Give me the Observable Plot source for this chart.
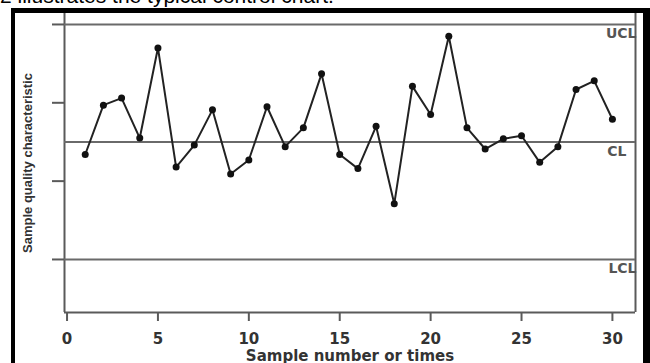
<!DOCTYPE html>
<html>
<head>
<meta charset="utf-8">
<script src="https://cdn.jsdelivr.net/npm/d3@7"></script>
<script src="https://cdn.jsdelivr.net/npm/@observablehq/plot@0.6"></script>
<style>
  html, body { margin: 0; padding: 0; background: #fff; }
  #wrap { position: relative; width: 650px; height: 363px; overflow: hidden; background: #fff; }
  #caption { position: absolute; left: 0px; top: -16px; font: 21px "Liberation Sans", Arial, sans-serif; color: #000; white-space: nowrap; }
  #border { position: absolute; left: 11px; top: 8px; width: 628px; height: 400px; border-left: 4px solid #000; border-top: 5px solid #000; border-right: 8px solid #000; box-sizing: content-box; }
  #chart { position: absolute; left: 0; top: 0; }
</style>
</head>
<body>
<div id="wrap">
  <div id="caption">2 illustrates the typical control chart.</div>
  <div id="chart"></div>
  <div id="border"></div>
</div>
<script>
const sampleNumbers = [1,2,3,4,5,6,7,8,9,10,11,12,13,14,15,16,17,18,19,20,21,22,23,24,25,26,27,28,29,30];
const sampleValues = [1.34,1.97,2.06,1.55,2.70,1.18,1.46,1.91,1.09,1.27,1.95,1.44,1.68,2.37,1.34,1.16,1.70,0.71,2.21,1.85,2.85,1.68,1.41,1.54,1.58,1.24,1.44,2.17,2.28,1.79];
const limitNames = ["UCL", "CL", "LCL"];
const limitValues = [3, 1.5, 0];
const xTicks = [0, 5, 10, 15, 20, 25, 30];
const yTicks = [0, 1, 2, 3];

const points = sampleNumbers.map((n, i) => ({n, v: sampleValues[i]}));
const limits = limitNames.map((name, i) => ({name, v: limitValues[i]}));

const xDom = [-0.14, 31.27];
const yDom = [-0.677, 3.14];
const gray = "#5a5a5a";

const chart = Plot.plot({
  width: 650,
  height: 363,
  marginLeft: 64,
  marginRight: 15,
  marginTop: 13,
  marginBottom: 51,
  x: {domain: xDom, ticks: xTicks, label: null},
  y: {domain: yDom, ticks: yTicks, label: null},
  style: {background: "transparent", overflow: "visible"},
  marks: [
    // frame (left, right, bottom)
    Plot.ruleX(xDom, {stroke: gray, strokeWidth: 2}),
    Plot.ruleY([yDom[0]], {stroke: gray, strokeWidth: 2}),
    // control limit lines
    Plot.ruleY(limits, {y: "v", x1: xDom[0], x2: xDom[1], stroke: "#6a6a6a", strokeWidth: 2}),
    // axes
    Plot.axisX({ticks: xTicks, tickSize: 9, tickPadding: 12, stroke: gray, strokeWidth: 2,
      fontSize: 15, fontWeight: "bold", fontFamily: "DejaVu Sans", fill: "#333",
      label: "Sample number or times", labelAnchor: "center", labelArrow: "none", labelOffset: 48}),
    Plot.axisY({ticks: yTicks, tickSize: 12, tickFormat: () => "", stroke: gray, strokeWidth: 2,
      label: "Sample quality characteristic", labelAnchor: "center", labelArrow: "none", labelOffset: 42}),
    // limit labels
    Plot.text(limits.filter(d => d.name !== "CL"), {x: xDom[1], y: "v", text: "name", textAnchor: "end", dx: 1, dy: 9,
      fill: "#555", fontWeight: "bold", fontSize: 14, fontFamily: "DejaVu Sans", ariaLabel: "limit-label"}),
    Plot.text(limits.filter(d => d.name === "CL"), {x: xDom[1], y: "v", text: "name", textAnchor: "end", dx: -9, dy: 10,
      fill: "#555", fontWeight: "bold", fontSize: 14, fontFamily: "DejaVu Sans", ariaLabel: "limit-label"}),
    // series
    Plot.line(points, {x: "n", y: "v", stroke: "#222", strokeWidth: 2}),
    Plot.dot(points, {x: "n", y: "v", r: 3.5, fill: "#111", stroke: "none"})
  ]
});
document.getElementById("chart").appendChild(chart);

const svg = d3.select(chart);
svg.selectAll("[aria-label='x-axis label']")
  .attr("font-size", 15).attr("font-weight", "bold").attr("font-family", "DejaVu Sans").attr("fill", "#333");
svg.selectAll("[aria-label='y-axis label']")
  .attr("font-size", 13).attr("font-family", "Liberation Sans").attr("font-weight", 600).attr("fill", "#333");
svg.selectAll("[aria-label='limit-label']").attr("letter-spacing", 2.5);
</script>
</body>
</html>
